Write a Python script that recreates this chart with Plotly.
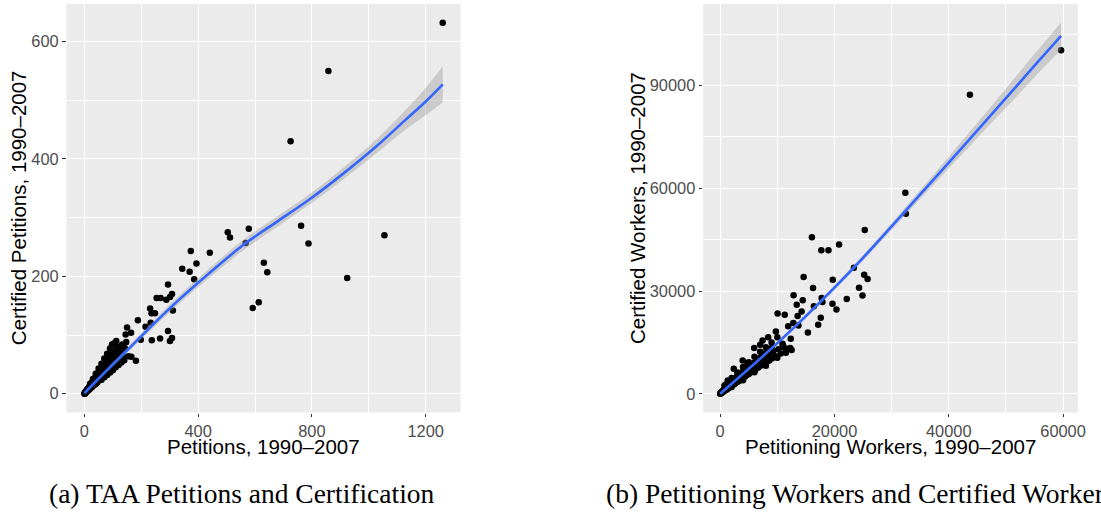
import plotly.graph_objects as go

# ---------------- Panel (a): petitions vs certified petitions ----------------
pet_x = [0, 1, 1, 2, 2, 3, 3, 4, 4, 5, 5, 6, 6, 7, 7, 8, 8, 9, 9, 10, 10, 11, 12, 12, 13, 14, 14, 15,
         16, 16, 17, 18, 18, 19, 20, 20, 21, 22, 22, 23, 24, 25, 25, 26, 27, 28, 28, 29, 30, 30, 31,
         32, 33, 34, 34, 35, 36, 37, 38, 38, 39, 40, 41, 42, 42, 43, 44, 45, 46, 47, 48, 48, 49, 50,
         51, 52, 53, 54, 55, 56, 57, 58, 59, 60, 61, 62, 63, 64, 65, 66, 67, 68, 69, 70, 71, 72, 74,
         75, 76, 78, 79, 80, 82, 83, 85, 86, 88, 90, 91, 93, 95, 97, 99, 101, 103, 105, 108, 110, 113,
         116, 118, 121, 125, 129, 133, 138, 142, 147,
         20, 30, 40, 50, 60, 70, 80, 90, 100, 110, 120, 15, 25, 35, 45, 55, 65, 75, 85, 95, 105, 115,
         20, 30, 40, 50, 60, 70, 80, 90, 97, 105, 112, 60, 80, 100, 120, 140, 155, 130, 110, 90, 70,
         134, 145, 150, 164, 165, 181, 188, 198, 215, 231, 233, 236, 237, 248, 254, 266, 268, 288,
         294, 294, 301, 301, 308, 308, 311, 344, 370, 374, 386, 394, 441, 504, 512, 567, 578, 592,
         613, 631, 643, 725, 762, 788, 858, 924, 1055, 1260]
pet_cert = [0, 1, 0, 1, 2, 1, 2, 3, 2, 3, 2, 4, 3, 5, 3, 4, 6, 5, 4, 7, 5, 6, 8, 5, 7, 9, 6, 8,
            11, 7, 9, 12, 8, 10, 14, 9, 12, 15, 10, 13, 16, 11, 14, 18, 12, 16, 20, 13, 17, 22, 14,
            19, 24, 15, 20, 26, 17, 22, 27, 16, 21, 29, 18, 24, 31, 19, 26, 33, 20, 28, 35, 22, 30, 37,
            23, 32, 39, 25, 34, 41, 24, 36, 44, 27, 38, 46, 29, 40, 48, 30, 42, 50, 32, 44, 53, 34, 47,
            55, 36, 50, 58, 38, 52, 60, 40, 55, 63, 44, 57, 66, 46, 60, 70, 49, 64, 73, 52, 67, 76,
            55, 70, 80, 60, 74, 84, 63, 78, 88,
            11, 19, 24, 30, 35, 40, 46, 52, 58, 60, 66, 10, 16, 21, 27, 31, 37, 43, 49, 54, 59, 64,
            17, 25, 34, 43, 51, 60, 68, 77, 84, 86, 90, 24, 32, 40, 49, 57, 64, 53, 45, 36, 28,
            73, 101, 113, 104, 63, 56, 125, 92, 114, 145, 121, 137, 91, 137, 163, 94, 163, 160,
            186, 107, 165, 90, 170, 95, 142, 213, 208, 243, 195, 222, 240, 275, 266, 257, 281, 146,
            156, 223, 207, 430, 286, 256, 550, 197, 270, 632]

fit_a_x = [0, 50, 100, 167, 250, 330, 450, 563, 680, 797, 910, 1030, 1130, 1205, 1260]
fit_a_y = [1, 26, 50, 82, 122, 159, 210, 255, 294, 333, 375, 423, 467, 500, 527]
fit_a_se = [2, 3, 4, 5, 6, 7, 8, 9, 9, 9, 10, 12, 17, 24, 31]

# ---------------- Panel (b): petitioning workers vs certified workers ----------------
wrk_x = [0, 50, 100, 150, 200, 250, 300, 350, 400, 450, 500, 550, 600, 650, 700, 750, 800, 850, 900,
         950, 1000, 1050, 1100, 1150, 1200, 1300, 1350, 1400, 1500, 1550, 1600, 1700, 1750, 1800,
         1900, 2000, 2100, 2200, 2300, 2400, 2500, 2600, 2700, 2800, 2900, 3000, 3100, 3200, 3300,
         3400, 3500, 3600, 3700, 3800, 3900, 4000, 4200, 4300, 4500, 4600, 4800, 5000, 5200, 5400,
         5600, 5800, 6000, 6200, 6500, 6700, 7000, 7200, 7500, 7800, 8000, 8300, 8600, 9000, 9300,
         9700, 10200, 10600, 11000,
         1000, 2000, 3000, 4000, 5000, 6000, 7000, 8000, 9000, 500, 1500, 2500, 3500, 4500, 5500,
         6500, 7500, 8500, 300, 700, 1200, 1800, 2600, 3200,
         1000, 2000, 3000, 4000, 5000, 6000, 7000, 8000, 9000, 10000,
         2000, 4000, 6000, 8000, 10000, 11500, 12500,
         750, 1330, 2380, 3940, 4800, 5950, 7000, 7420, 8400, 8580, 9450, 9750, 10050, 10900,
         11070, 11300, 11480, 11900, 12250, 12350, 12800, 12850, 13400, 13550, 13700, 14250,
         14450, 14600, 15350, 16050, 16250, 16400, 17150, 17600, 17700, 17750, 17900, 18950,
         19650, 19700, 20350, 20800, 22150, 23400, 24300, 24900, 25200, 25300, 25800, 32400,
         32500, 43700, 59650]
wrk_cert = [0, 80, 150, 200, 380, 300, 520, 450, 700, 550, 900, 650, 1100, 800, 1300, 950, 1500,
            1050, 1700, 1150, 1900, 1200, 2100, 1350, 2300, 1500, 2600, 1700, 2800, 1800, 3000,
            2000, 3300, 2200, 3500, 2400, 3800, 2600, 4000, 2800, 4300, 3000, 4600, 3300, 4900,
            3500, 5200, 3700, 5500, 3900, 5800, 4200, 6100, 4400, 6400, 4700, 6800, 5000, 7200,
            5400, 7600, 5800, 8000, 6300, 8500, 6700, 9000, 7200, 9500, 7700, 10000, 8300, 10600,
            8900, 11200, 9500, 11800, 10300, 12500, 11000, 13000, 11800, 14200,
            1500, 3100, 4600, 6100, 7600, 9100, 10500, 12000, 13400, 750, 2300, 3800, 5300, 6800,
            8200, 9800, 11300, 12800, 550, 1250, 1900, 2900, 4100, 5000,
            2700, 4600, 6200, 7800, 9200, 10800, 12300, 13600, 15000, 16500,
            2000, 4000, 6300, 8200, 10500, 12000, 12800,
            2430, 3900, 7300, 9740, 8770, 13350, 14300, 15580, 16550, 9740, 10710, 18200, 23450,
            14600, 13640, 23100, 13150, 19700, 13350, 16050, 20650, 28750, 26000, 22700, 19950,
            24050, 27350, 34100, 17900, 45700, 30900, 25600, 20150, 22200, 41900, 27950, 26800,
            41900, 26300, 33300, 24650, 43600, 27650, 36800, 31000, 28700, 34800, 47800, 33500,
            58700, 52600, 87300, 100300]

fit_b_x = [0, 5000, 10000, 15000, 20000, 25000, 30000, 35000, 40000, 45000, 50000, 55000, 59650]
fit_b_y = [0, 7300, 14800, 22700, 31000, 39700, 48900, 58200, 67500, 76900, 86300, 95800, 104500]
fit_b_se = [300, 400, 500, 600, 700, 800, 1000, 1300, 1700, 2200, 2800, 3400, 4000]

LINE = "#3366FF"
BAND = "rgba(153,153,153,0.4)"
PANEL = "#EBEBEB"
TICKC = "#4D4D4D"
SANS = "Liberation Sans, Arial, sans-serif"
SERIF = "Liberation Serif, Times New Roman, serif"

fig = go.Figure()


def add_panel(xs, ys, fx, fy, fse, xa, ya):
    fig.add_trace(go.Scatter(x=xs, y=ys, mode="markers", xaxis=xa, yaxis=ya,
                             marker=dict(color="black", size=6.5, line=dict(width=0)),
                             hoverinfo="skip", showlegend=False))
    lo = [a - b for a, b in zip(fy, fse)]
    hi = [a + b for a, b in zip(fy, fse)]
    fig.add_trace(go.Scatter(x=fx, y=lo, mode="lines", line=dict(width=0, shape="spline"),
                             xaxis=xa, yaxis=ya, showlegend=False, hoverinfo="skip"))
    fig.add_trace(go.Scatter(x=fx, y=hi, mode="lines", line=dict(width=0, shape="spline"),
                             fill="tonexty", fillcolor=BAND,
                             xaxis=xa, yaxis=ya, showlegend=False, hoverinfo="skip"))
    fig.add_trace(go.Scatter(x=fx, y=fy, mode="lines", line=dict(color=LINE, width=2.6, shape="spline"),
                             xaxis=xa, yaxis=ya, showlegend=False, hoverinfo="skip"))


add_panel(pet_x, pet_cert, fit_a_x, fit_a_y, fit_a_se, "x", "y")
add_panel(wrk_x, wrk_cert, fit_b_x, fit_b_y, fit_b_se, "x2", "y2")

axis_common = dict(showgrid=True, gridcolor="white", gridwidth=1.4, zeroline=False,
                   showline=False, ticks="outside", ticklen=3.5, tickwidth=1, tickcolor="#333333",
                   tickformat="d",
                   tickfont=dict(family=SANS, size=16.4, color=TICKC))

fig.update_layout(
    width=1101, height=512,
    margin=dict(l=0, r=0, t=0, b=0),
    paper_bgcolor="white", plot_bgcolor=PANEL,
    xaxis=dict(domain=[0.06085, 0.42144], range=[-63, 1323], tick0=0, dtick=400,
               minor=dict(dtick=200, tick0=0, showgrid=True, gridcolor="white", gridwidth=0.7, ticks=""),
               anchor="y", **axis_common),
    yaxis=dict(domain=[0.1943, 0.9922], range=[-32, 664], tick0=0, dtick=200,
               minor=dict(dtick=100, tick0=0, showgrid=True, gridcolor="white", gridwidth=0.7, ticks=""),
               anchor="x", **axis_common),
    xaxis2=dict(domain=[0.6433, 0.98638], range=[-2982, 62632], tick0=0, dtick=20000,
                minor=dict(dtick=10000, tick0=0, showgrid=True, gridcolor="white", gridwidth=0.7, ticks=""),
                anchor="y2", **axis_common),
    yaxis2=dict(domain=[0.1943, 0.9922], range=[-5450, 113800], tick0=0, dtick=30000,
                minor=dict(dtick=15000, tick0=0, showgrid=True, gridcolor="white", gridwidth=0.7, ticks=""),
                anchor="x2", **axis_common),
)

title_font = dict(family=SANS, size=20.5, color="black")
ann = [
    dict(text="Petitions, 1990\u20132007", x=0.2411, y=0.1275, textangle=0),
    dict(text="Certified Petitions, 1990\u20132007", x=0.01662, y=0.59375, textangle=-90),
    dict(text="Petitioning Workers, 1990\u20132007", x=0.8147, y=0.1275, textangle=0),
    dict(text="Certified Workers, 1990\u20132007", x=0.5828, y=0.59375, textangle=-90),
]
for a in ann:
    fig.add_annotation(xref="paper", yref="paper", showarrow=False, xanchor="center",
                       yanchor="middle", font=title_font, **a)

cap_font = dict(family=SERIF, size=27.5, color="black")
fig.add_annotation(text="(a) TAA Petitions and Certification", xref="paper", yref="paper",
                   x=47 / 1101, y=0.0371, xanchor="left", yanchor="middle", showarrow=False,
                   font=cap_font)
fig.add_annotation(text="(b) Petitioning Workers and Certified Workers", xref="paper", yref="paper",
                   x=608 / 1101, y=0.0371, xanchor="left", yanchor="middle", showarrow=False,
                   font=cap_font)

fig.write_html("out.html", config={"displayModeBar": False},
               post_script="document.body.style.margin='0';document.body.style.overflow='hidden';")
